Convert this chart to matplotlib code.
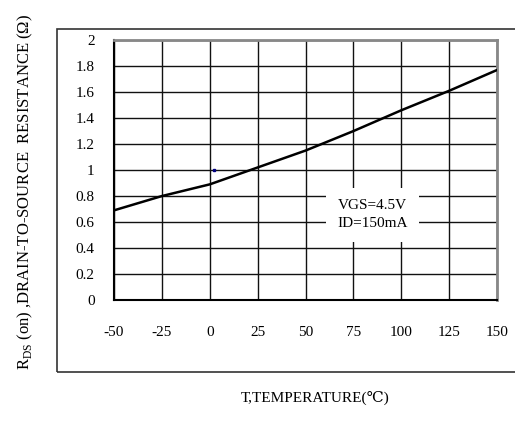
import matplotlib
matplotlib.use("Agg")
import matplotlib.pyplot as plt
from matplotlib.patches import Rectangle

# Дані кривої R_DS(on) від температури
temperature = [-50, -25, 0, 25, 50, 75, 100, 125, 150]
resistance = [0.69, 0.80, 0.89, 1.02, 1.15, 1.30, 1.46, 1.61, 1.77]
x_ticks = [-50, -25, 0, 25, 50, 75, 100, 125, 150]
y_ticks = [0, 0.2, 0.4, 0.6, 0.8, 1, 1.2, 1.4, 1.6, 1.8, 2]
stray_point = (2, 1.0)

plt.rcParams['font.family'] = ['Liberation Serif', 'DejaVu Serif']
plt.rcParams['mathtext.fontset'] = 'custom'
plt.rcParams['mathtext.rm'] = 'Liberation Serif'
plt.rcParams['axes.unicode_minus'] = False

fig = plt.figure(figsize=(5.15, 4.36), dpi=100)

# Зовнішня рамка
fig.add_artist(Rectangle((0.1107, 0.1468), 1.0, 0.7867, transform=fig.transFigure,
                         fill=False, edgecolor='#333333', linewidth=1.2))

ax = fig.add_axes([0.2214, 0.3119, 0.7437, 0.5961])
ax.plot(temperature, resistance, color='black', linewidth=1.8, zorder=3)
ax.plot([stray_point[0]], [stray_point[1]], marker='s', markersize=1.5,
        color='navy', linestyle='none', zorder=3)

ax.set_xlim(-50, 150)
ax.set_ylim(0, 2)
ax.set_xticks(x_ticks)
ax.set_yticks(y_ticks)
ax.set_yticklabels([f"{v:g}" for v in y_ticks])
ax.tick_params(length=0, labelsize=11, pad=19, axis='x')
ax.tick_params(length=0, labelsize=11, pad=14, axis='y')
ax.grid(True, color='#111111', linewidth=1.0)
ax.set_axisbelow(True)

for side in ['left', 'bottom']:
    ax.spines[side].set_color('black')
    ax.spines[side].set_linewidth(1.5)
for side in ['top', 'right']:
    ax.spines[side].set_color('#888888')
    ax.spines[side].set_linewidth(2)

ax.text(85, 0.655, "VGS=4.5V\nID=150mA", ha='center', va='center', fontsize=11,
        linespacing=1.5, zorder=4,
        bbox=dict(facecolor='white', edgecolor='none', pad=8))

fig.text(0.612, 0.087, "T,TEMPERATURE(℃)", ha='center', va='center', fontsize=11)
fig.text(0.05, 0.56, r"R$_{\rm DS}$ (on) ,DRAIN-TO-SOURCE  RESISTANCE (Ω)",
         rotation=90, ha='center', va='center', fontsize=12)

plt.savefig("out.png", dpi=100)
plt.close()
